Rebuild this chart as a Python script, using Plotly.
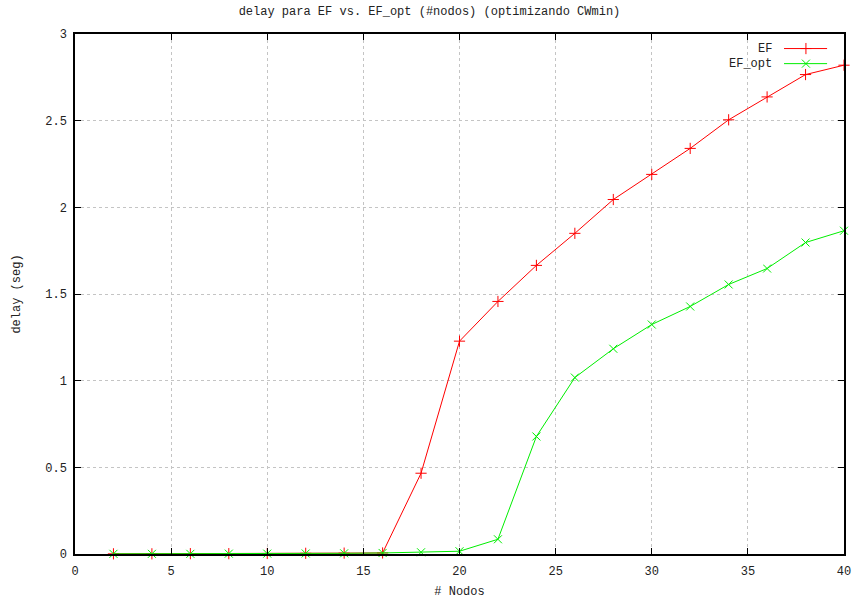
import plotly.graph_objects as go

# Number of nodes
nodos = [2, 4, 6, 8, 10, 12, 14, 16, 18, 20, 22, 24, 26, 28, 30, 32, 34, 36, 38, 40]

# Mean delay (seconds) for each scheme
delay_ef = [0.001, 0.001, 0.002, 0.002, 0.003, 0.004, 0.005, 0.006, 0.466, 1.228,
            1.457, 1.665, 1.85, 2.045, 2.19, 2.34, 2.505, 2.637, 2.766, 2.82]
delay_ef_opt = [0.001, 0.001, 0.001, 0.002, 0.002, 0.003, 0.004, 0.006, 0.01, 0.016,
                0.085, 0.678, 1.018, 1.184, 1.324, 1.428, 1.555, 1.647, 1.797, 1.865]

series_names = ["EF", "EF_opt"]
series_colors = ["#ff0000", "#00ee00"]
series_symbols = ["cross-thin-open", "x-thin-open"]

x_ticks = [0, 5, 10, 15, 20, 25, 30, 35, 40]
y_ticks = [0, 0.5, 1, 1.5, 2, 2.5, 3]
y_tick_text = ["0", "0.5", "1", "1.5", "2", "2.5", "3"]

FONT = "Liberation Mono, DejaVu Sans Mono, monospace"
TEXT = "#222222"

fig = go.Figure()

for name, ys, col, sym in zip(series_names, [delay_ef, delay_ef_opt], series_colors, series_symbols):
    fig.add_trace(go.Scatter(
        x=nodos, y=ys, name=name, mode="lines+markers",
        line=dict(color=col, width=1),
        marker=dict(symbol=sym, size=8, color=col, line=dict(color=col, width=1)),
        cliponaxis=False, showlegend=False,
    ))

# Key in the upper-right corner: label, then a short line with the marker
key_y = [0.972, 0.943]
for name, col, sym, ky in zip(series_names, series_colors, series_symbols, key_y):
    fig.add_annotation(xref="paper", yref="paper", x=0.909, y=ky, text=name,
                       showarrow=False, xanchor="right", yanchor="middle",
                       font=dict(family=FONT, size=12, color=TEXT))
    fig.add_shape(type="line", xref="paper", yref="paper",
                  x0=0.922, x1=0.978, y0=ky, y1=ky, line=dict(color=col, width=1))
    fig.add_trace(go.Scatter(
        x=[0.9505], y=[ky], xaxis="x2", yaxis="y2", mode="markers",
        marker=dict(symbol=sym, size=8, color=col, line=dict(color=col, width=1)),
        showlegend=False, hoverinfo="skip", cliponaxis=False,
    ))

axis_common = dict(
    showline=True, linecolor="black", linewidth=1.5, mirror="ticks",
    ticks="inside", ticklen=6, tickcolor="black", tickwidth=1.3,
    showgrid=True, gridcolor="#c4c4c4", griddash="dot", gridwidth=1,
    zeroline=False, automargin=False,
    tickfont=dict(family=FONT, size=12, color=TEXT),
)

fig.update_layout(
    width=859, height=599,
    margin=dict(l=75, r=15, t=34, b=45),
    paper_bgcolor="white", plot_bgcolor="white",
    title=dict(text="delay para EF vs. EF_opt (#nodos) (optimizando CWmin)",
               x=0.5, xanchor="center", y=0.982, yanchor="middle",
               font=dict(family=FONT, size=12, color=TEXT)),
    xaxis=dict(range=[0, 40], tickvals=x_ticks, ticklabelstandoff=5,
               title=dict(text="# Nodos", font=dict(family=FONT, size=12, color=TEXT), standoff=10),
               **axis_common),
    yaxis=dict(range=[0, 3], tickvals=y_ticks, ticktext=y_tick_text, ticklabelstandoff=4,
               title=dict(text="delay (seg)", font=dict(family=FONT, size=12, color=TEXT), standoff=22),
               **axis_common),
    xaxis2=dict(overlaying="x", range=[0, 1], visible=False),
    yaxis2=dict(overlaying="y", range=[0, 1], visible=False),
    showlegend=False,
)

fig.write_html("out.html")
